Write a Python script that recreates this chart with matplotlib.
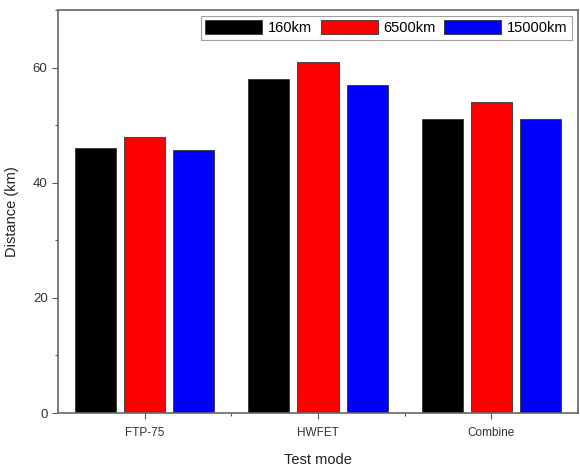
import matplotlib.pyplot as plt
import numpy as np
from matplotlib.ticker import MultipleLocator, FixedLocator

plt.rcParams['font.family'] = ['Liberation Sans', 'DejaVu Sans']

# data
modes = ["FTP-75", "HWFET", "Combine"]
series = ["160km", "6500km", "15000km"]
d_160 = [46.1, 58.1, 51.0]
d_6500 = [48.0, 60.9, 54.1]
d_15000 = [45.6, 56.9, 51.0]
colors = ["#000000", "#ff0000", "#0000ff"]

fig = plt.figure(figsize=(5.8, 4.67), dpi=100)
ax = fig.add_axes([58 / 580, 1 - 413 / 467, 520 / 580, 403 / 467])

x = np.arange(1, len(modes) + 1)
w = 0.237
off = 0.283
for i, (vals, lab, c) in enumerate(zip([d_160, d_6500, d_15000], series, colors)):
    ax.bar(x + (i - 1) * off, vals, w, color=c, edgecolor="#333333",
           linewidth=0.6, label=lab)

ax.set_xlim(0.5, 3.5)
ax.set_ylim(0, 70)
ax.set_xticks(x)
ax.set_xticklabels(modes, fontsize=8.5, color="#333333")
ax.xaxis.set_minor_locator(FixedLocator([1.5, 2.5]))
ax.yaxis.set_major_locator(MultipleLocator(20))
ax.yaxis.set_minor_locator(MultipleLocator(10))
ax.tick_params(axis="y", labelsize=9.5, labelcolor="#333333")
ax.tick_params(axis="x", pad=6)
ax.tick_params(which="both", direction="out", color="#555555", width=0.8)
ax.tick_params(which="major", length=4)
ax.tick_params(which="minor", length=2.5)
for s in ax.spines.values():
    s.set_color("#666666")
    s.set_linewidth(1.2)

ax.set_ylabel("Distance (km)", fontsize=10.5, color="#222222", labelpad=10)
ax.set_xlabel("Test mode", fontsize=10.5, color="#222222", labelpad=10)

leg = ax.legend(loc="upper right", ncol=3, fontsize=10.5, frameon=True,
                fancybox=False, edgecolor="#888888", handlelength=3.9,
                handleheight=1.1, handletextpad=0.4, columnspacing=0.6,
                borderpad=0.3, borderaxespad=0.4)
leg.get_frame().set_linewidth(0.8)

fig.savefig("out.png", dpi=100)
